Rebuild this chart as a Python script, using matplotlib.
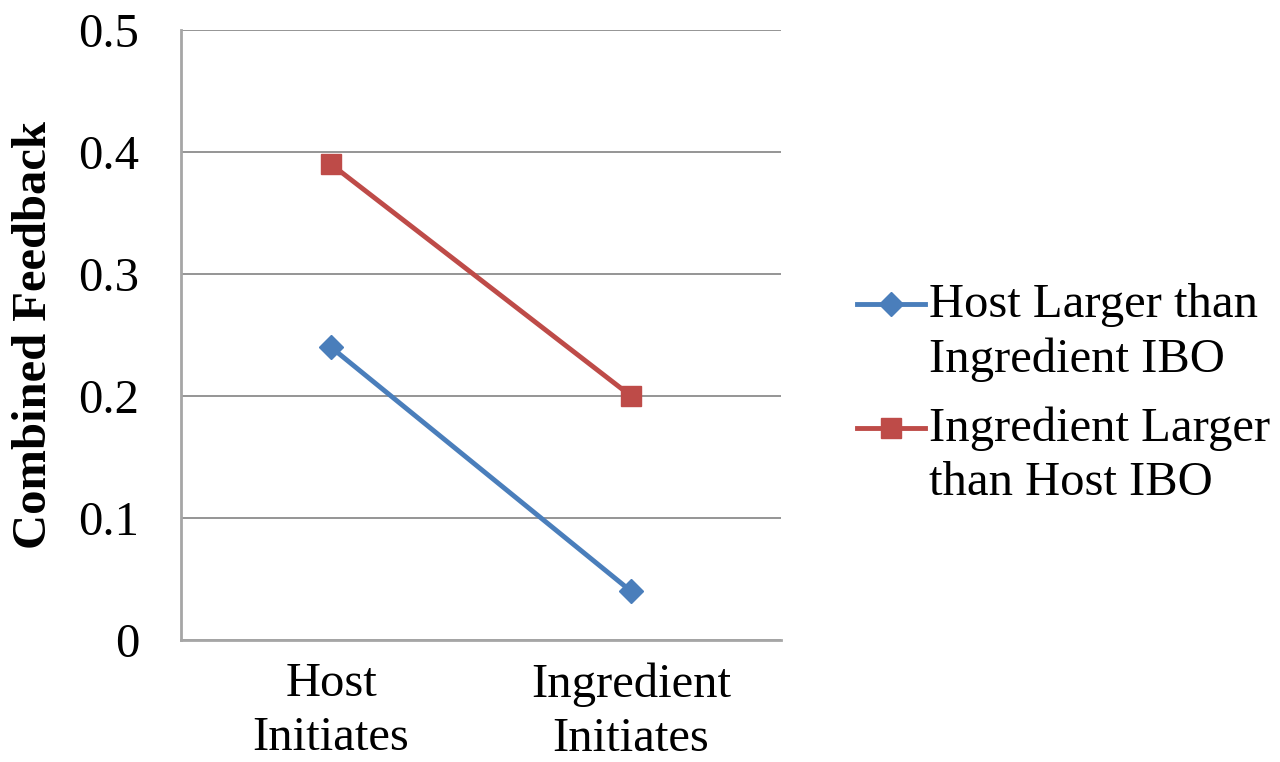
import matplotlib.pyplot as plt
from matplotlib.legend_handler import HandlerLine2D
import numpy as np

categories = ['Host\nInitiates', 'Ingredient\nInitiates']
host_larger = [0.24, 0.04]
ingredient_larger = [0.39, 0.20]
labels = ['Host Larger than\nIngredient IBO', 'Ingredient Larger\nthan Host IBO']
yticks = [0, 0.1, 0.2, 0.3, 0.4, 0.5]

plt.rcParams['font.family'] = ['Liberation Serif', 'DejaVu Serif']
FS = 35


# handle sits on the first text line, like the Excel legend
class TopLine(HandlerLine2D):
    def create_artists(self, legend, orig_handle, xdescent, ydescent,
                       width, height, fontsize, trans):
        return super().create_artists(legend, orig_handle, xdescent,
                                      ydescent - 1.15 * fontsize, width,
                                      height, fontsize, trans)


fig = plt.figure(figsize=(12.8, 7.62), dpi=100)
ax = fig.add_axes([0.1414, 0.1601, 0.4688, 0.8005])

x = np.arange(len(categories))
l1, = ax.plot(x, host_larger, color='#4A7EBB', linewidth=3.5, marker='D',
              markersize=12, label=labels[0])
l2, = ax.plot(x, ingredient_larger, color='#BE4B48', linewidth=3.5, marker='s',
              markersize=15, label=labels[1])

ax.set_xlim(-0.5, 1.5)
ax.set_ylim(0, 0.5)
ax.set_yticks(yticks)
ax.set_yticklabels(['0', '0.1', '0.2', '0.3', '0.4', '0.5'])
ax.set_xticks(x)
ax.set_xticklabels(categories, linespacing=1.3)
ax.tick_params(axis='y', length=0, pad=30, labelsize=FS)
ax.tick_params(axis='x', length=0, pad=16, labelsize=FS)
ax.yaxis.grid(True, color='#8C8C8C', linewidth=1.3)
ax.set_axisbelow(True)
for s in ['top', 'right']:
    ax.spines[s].set_visible(False)
for s in ['left', 'bottom']:
    ax.spines[s].set_color('#A6A6A6')
    ax.spines[s].set_linewidth(2)

ax.set_ylabel('Combined Feedback', fontsize=FS, fontweight='bold', labelpad=16)

leg = fig.legend(handles=[l1, l2], loc='center left', bbox_to_anchor=(0.654, 0.483),
                 frameon=False, prop={'size': FS}, handlelength=1.4,
                 handletextpad=0.08, labelspacing=0.5, borderaxespad=0,
                 handler_map={l1: TopLine(), l2: TopLine()})
for t in leg.get_texts():
    t.set_linespacing(1.3)

fig.savefig('out.png', dpi=100)
